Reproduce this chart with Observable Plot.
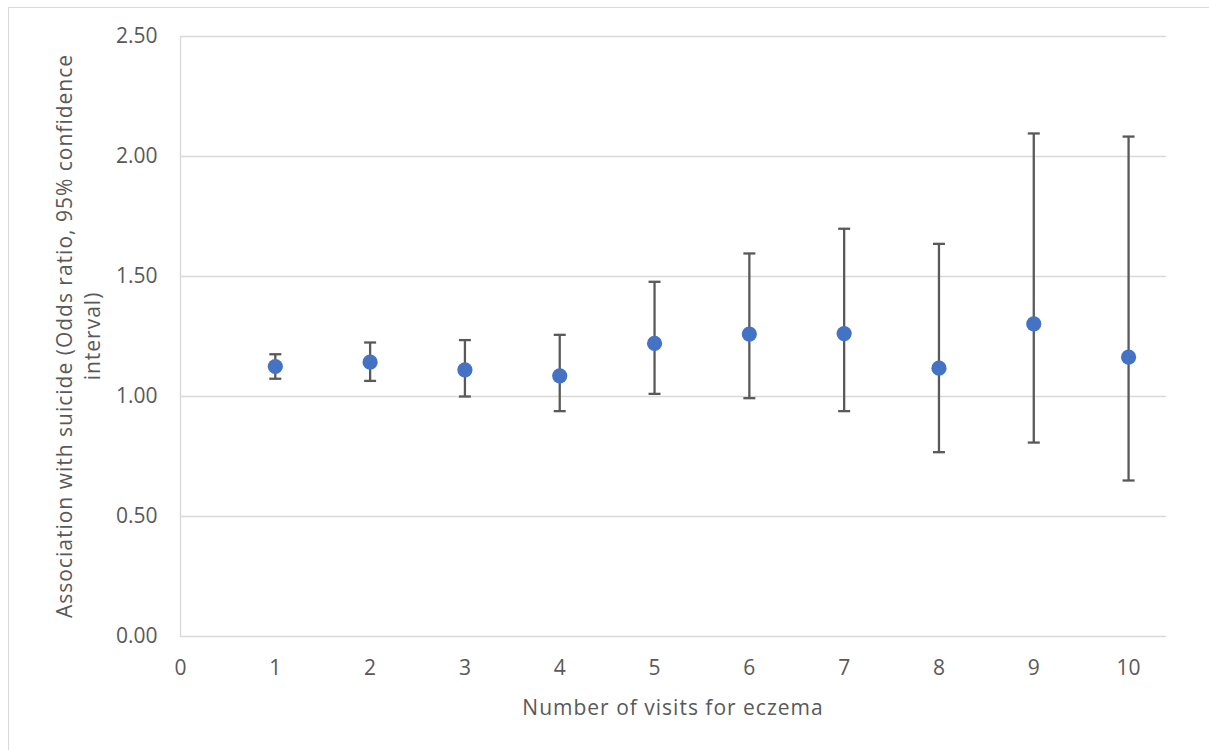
<!DOCTYPE html>
<html>
<head>
<meta charset="utf-8">
<script src="https://cdn.jsdelivr.net/npm/d3@7"></script>
<script src="https://cdn.jsdelivr.net/npm/@observablehq/plot@0.6"></script>
<style>
  html, body { margin: 0; padding: 0; background: #fff; overflow: hidden; }
  #wrap { position: relative; width: 1209px; height: 750px; }
  #border { position: absolute; left: 8px; top: 7px; width: 1400px; height: 900px; border: 1px solid #d9d9d9; box-sizing: border-box; }
  #chart { position: absolute; left: 0; top: 0; }
</style>
</head>
<body>
<div id="wrap"><div id="border"></div><div id="chart"></div></div>
<script>
const visits = [1, 2, 3, 4, 5, 6, 7, 8, 9, 10];
const oddsRatio = [1.125, 1.143, 1.111, 1.086, 1.221, 1.260, 1.262, 1.118, 1.303, 1.164];
const lowerCI = [1.074, 1.065, 1.000, 0.939, 1.011, 0.993, 0.939, 0.768, 0.808, 0.650];
const upperCI = [1.176, 1.225, 1.235, 1.257, 1.478, 1.596, 1.699, 1.636, 2.096, 2.083];
const yTicks = [0, 0.5, 1.0, 1.5, 2.0, 2.5];
const xTicks = [0, 1, 2, 3, 4, 5, 6, 7, 8, 9, 10];
const xTitle = "Number of visits for eczema";
const yTitleLines = ["Association with suicide (Odds ratio, 95% confidence", "interval)"];

const data = visits.map((v, i) => ({x: v, or: oddsRatio[i], lo: lowerCI[i], hi: upperCI[i]}));

const capSymbol = {
  draw(context, size) {
    context.moveTo(-6, 0);
    context.lineTo(6, 0);
  }
};

const textColor = "#595959";
const gridColor = "#d9d9d9";

const plot = Plot.plot({
  width: 1209,
  height: 750,
  marginLeft: 180,
  marginRight: 43,
  marginTop: 36,
  marginBottom: 114,
  style: {fontFamily: "'Open Sans', sans-serif", fontSize: "21px", color: textColor, background: "transparent"},
  x: {domain: [0, 10.4], ticks: xTicks, tickSize: 0, tickPadding: 24, tickFormat: d => String(d), label: null},
  y: {domain: [0, 2.5], ticks: yTicks, tickSize: 0, tickPadding: 23, tickFormat: d => d.toFixed(2), label: null},
  marks: [
    Plot.ruleY(yTicks, {stroke: gridColor, strokeWidth: 1.4}),
    Plot.ruleX([0], {stroke: gridColor, strokeWidth: 1.4}),
    Plot.ruleX(data, {x: "x", y1: "lo", y2: "hi", stroke: "#595959", strokeWidth: 2.3}),
    Plot.dot(data, {x: "x", y: "lo", symbol: capSymbol, stroke: "#595959", strokeWidth: 2.3, fill: "none", r: 6}),
    Plot.dot(data, {x: "x", y: "hi", symbol: capSymbol, stroke: "#595959", strokeWidth: 2.3, fill: "none", r: 6}),
    Plot.dot(data, {x: "x", y: "or", r: 7.6, fill: "#4472C4", stroke: "none"})
  ]
});

const svg = d3.select(plot);
svg.selectAll("[aria-label='x-axis tick label'] text, [aria-label='y-axis tick label'] text").attr("fill", textColor);

// x axis title
svg.append("text")
  .attr("x", 673)
  .attr("y", 715)
  .attr("text-anchor", "middle")
  .attr("fill", textColor)
  .style("font-family", "'Open Sans', sans-serif")
  .style("font-size", "21px")
  .style("letter-spacing", "1px")
  .text(xTitle);

// y axis title (two lines, rotated)
const yt = svg.append("text")
  .attr("transform", "translate(0,336) rotate(-90)")
  .attr("text-anchor", "middle")
  .attr("fill", textColor)
  .style("font-family", "'Open Sans', sans-serif")
  .style("font-size", "21px")
  .style("letter-spacing", "1px");
yTitleLines.forEach((line, i) => {
  yt.append("tspan").attr("x", 0).attr("y", 72 + i * 28).text(line);
});

document.getElementById("chart").appendChild(plot);
</script>
</body>
</html>
